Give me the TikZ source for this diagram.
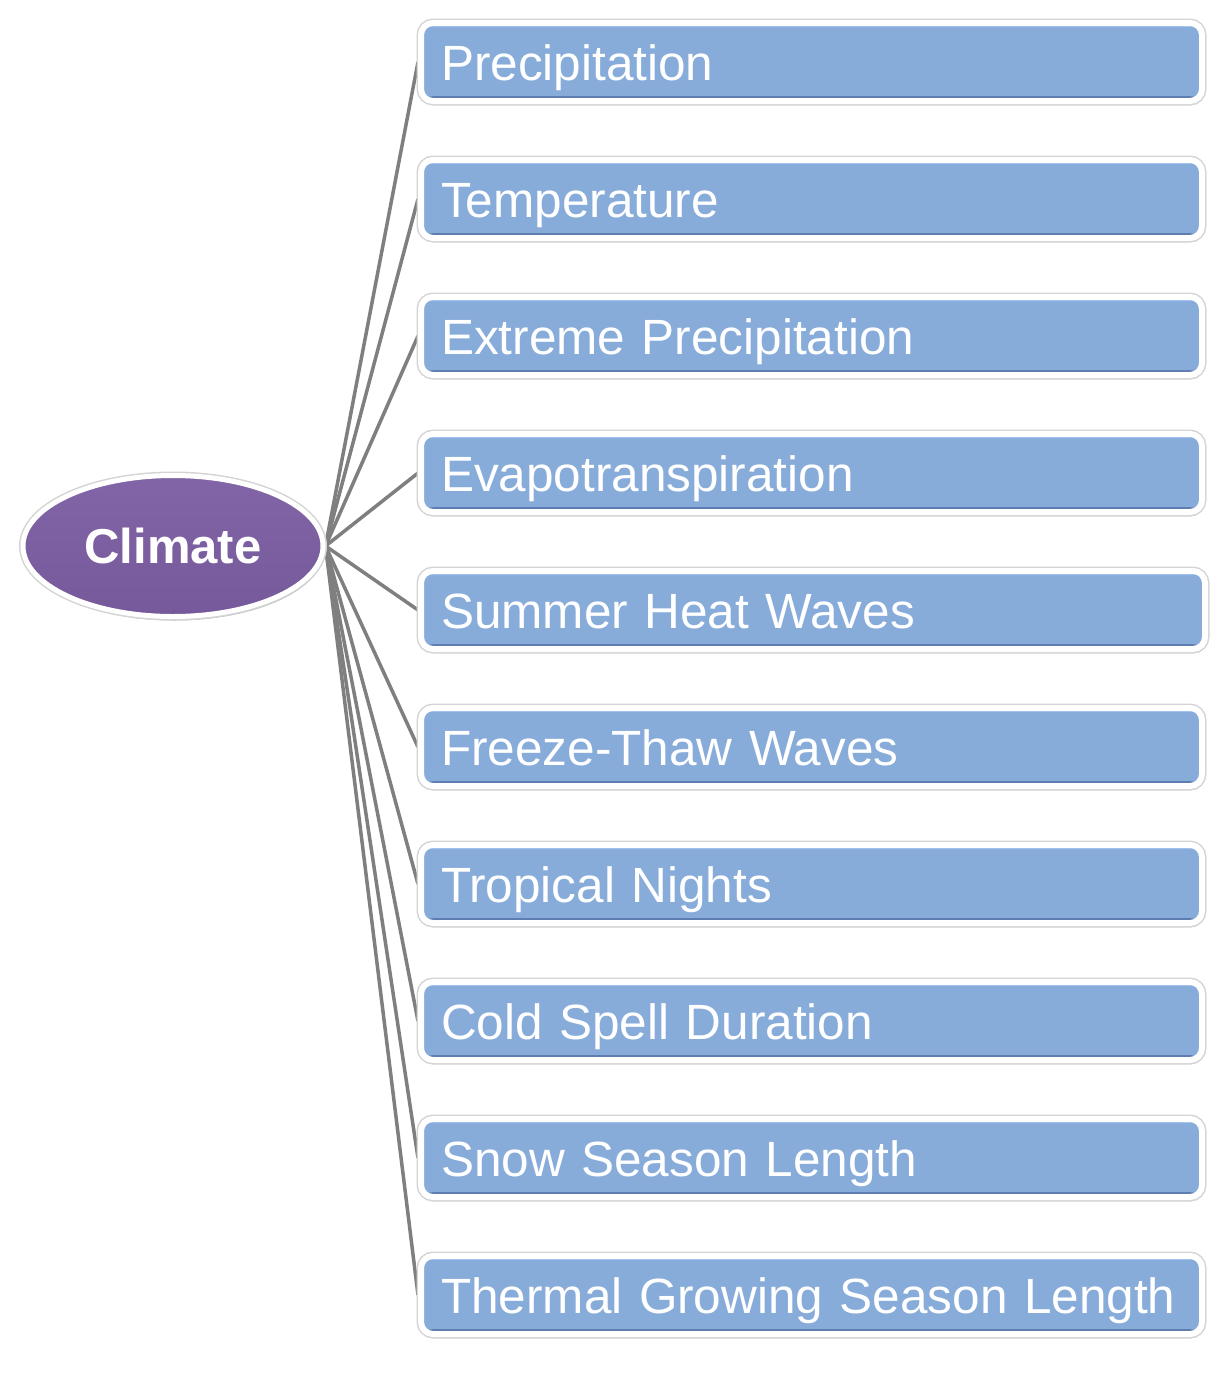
\documentclass[tikz,border=0pt]{standalone}
\usepackage{fontspec}
\setmainfont{Liberation Sans}
\usetikzlibrary{shapes.geometric,shadows,backgrounds}
\definecolor{boxblue}{HTML}{88ACDA}
\definecolor{boxdark}{HTML}{5E7EB2}
\definecolor{boxlight}{HTML}{94BAEC}
\definecolor{climtop}{HTML}{8265A6}
\definecolor{climbot}{HTML}{76599A}
\definecolor{linkgray}{HTML}{7F7F7F}
\definecolor{rimgray}{HTML}{D4D4D4}
\tikzset{
  itembox/.style={draw=white, line width=6pt, rounded corners=12pt, fill=boxblue,
    minimum height=78pt, text width=741pt, inner xsep=20pt, inner ysep=0pt,
    align=left, text=white, font=\fontsize{49.5}{60}\selectfont,
    text height=36pt, text depth=0pt,
    drop shadow={shadow xshift=1.5pt, shadow yshift=-4pt, opacity=0.3, fill=black},
    preaction={draw=rimgray, line width=9pt},
    path picture={
      \fill[boxlight] (path picture bounding box.north west) rectangle ([yshift=-4pt]path picture bounding box.north east);
      \fill[boxdark] (path picture bounding box.south west) rectangle ([yshift=5pt]path picture bounding box.south east);
    }},
  rootnode/.style={ellipse, draw=white, line width=5pt, top color=climtop, bottom color=climbot,
    minimum width=300pt, minimum height=141pt, inner sep=0pt, text=white,
    font=\fontsize{49}{58}\selectfont\bfseries,
    drop shadow={shadow xshift=1.5pt, shadow yshift=-4pt, opacity=0.3, fill=black},
    preaction={draw=rimgray, line width=8pt}},
  link/.style={draw=linkgray, line width=3.5pt}
}
\begin{document}
\begin{tikzpicture}[x=1pt,y=-1pt]
\useasboundingbox (0,0) rectangle (1226,1376);
\node[rootnode] (climate) at (173,546) {Climate};
\node[itembox] (b1) at (811.5,62) {Precipitation};
\node[itembox] (b2) at (811.5,199) {Temperature};
\node[itembox] (b3) at (811.5,336) {Extreme Precipitation};
\node[itembox] (b4) at (811.5,473) {Evapotranspiration};
\node[itembox, text width=744pt] (b5) at (813,610) {Summer Heat Waves};
\node[itembox] (b6) at (811.5,747) {Freeze-Thaw Waves};
\node[itembox] (b7) at (811.5,884) {Tropical Nights};
\node[itembox] (b8) at (811.5,1021) {Cold Spell Duration};
\node[itembox] (b9) at (811.5,1158) {Snow Season Length};
\node[itembox] (b10) at (811.5,1295) {Thermal Growing Season Length};
\begin{scope}[on background layer]
\foreach \i in {1,...,10}{
  \draw[link] (climate.east) -- (b\i.west);
}
\end{scope}
\end{tikzpicture}
\end{document}
